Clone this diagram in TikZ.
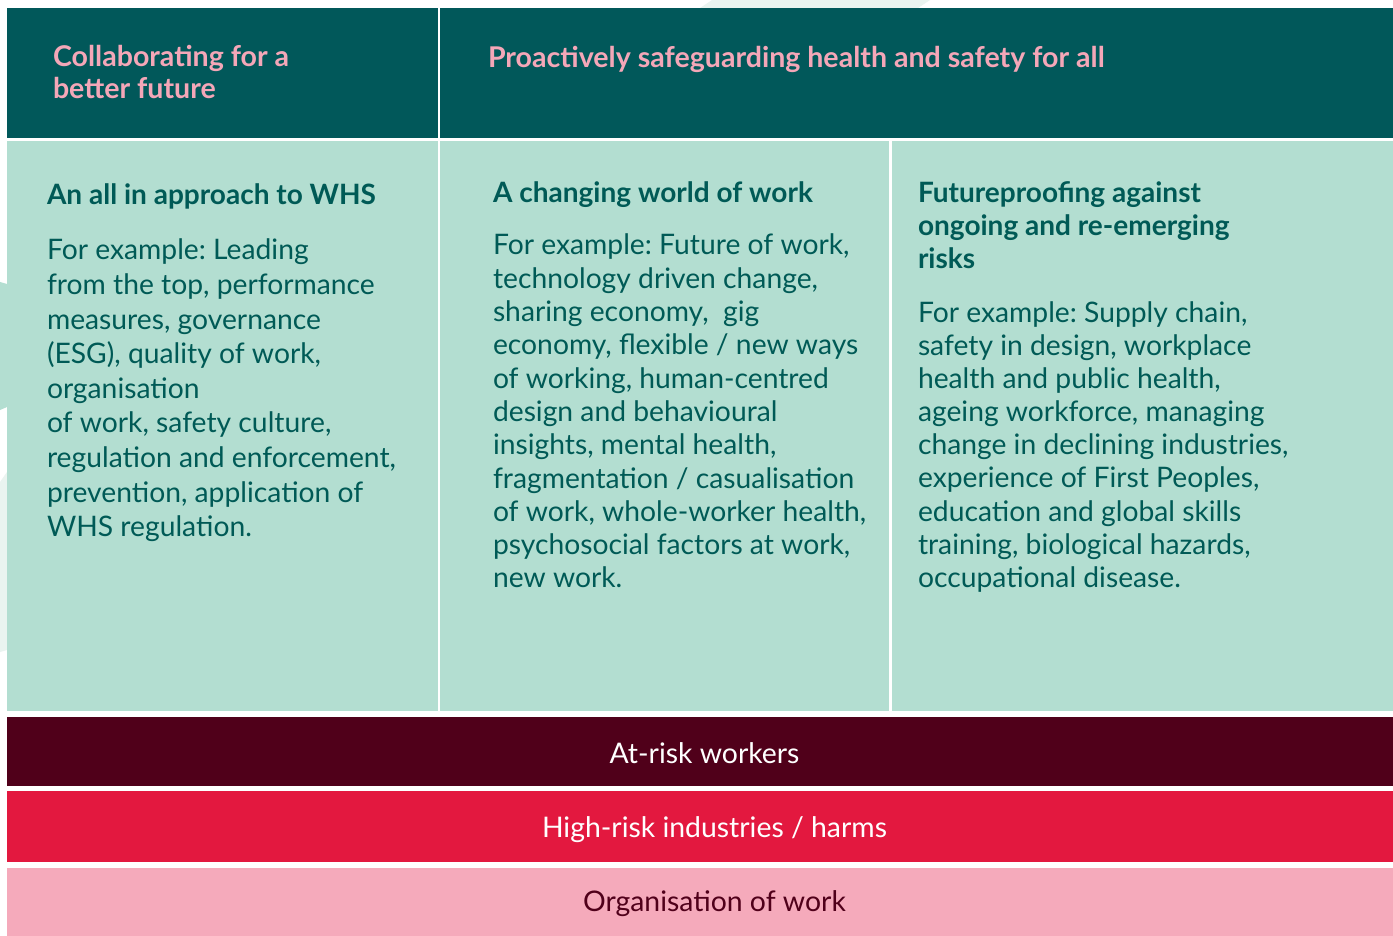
\documentclass[tikz,border=0pt]{standalone}
\usepackage{fontspec}
\setmainfont{Lato}
\definecolor{hdr}{HTML}{01585A}
\definecolor{hdrtxt}{HTML}{F4A7B8}
\definecolor{mint}{HTML}{B3DED1}
\definecolor{ink}{HTML}{005A56}
\definecolor{bandA}{HTML}{50001A}
\definecolor{bandB}{HTML}{E3183F}
\definecolor{bandC}{HTML}{F5AABB}
\definecolor{faint}{HTML}{EAF4F0}
\newbox\fitbox
\makeatletter
\newcommand\fitfont[4]{%
  \setbox\fitbox=\hbox{\normalfont\frenchspacing#2\fontsize{10pt}{12pt}\selectfont #4}%
  \edef\fitw{\strip@pt\wd\fitbox}%
  \pgfmathsetmacro#1{10*#3/\fitw}\global\let#1#1}
\makeatother
\frenchspacing
\begin{document}
\fitfont{\bodysize}{\mdseries}{349}{regulation and enforcement,}%
\fitfont{\headsize}{\bfseries}{329}{An all in approach to WHS}%
\fitfont{\topsize}{\bfseries}{236}{Collaborating for a}%
\fitfont{\bandsize}{\mdseries}{345}{High-risk industries / harms}%
\begin{tikzpicture}[x=1pt,y=-1pt,
  cell/.style={draw=none,inner sep=0pt,outer sep=0pt,anchor=north west},
  txt/.style={inner sep=0pt,outer sep=0pt,anchor=base west,text=ink,
    font=\frenchspacing\fontsize{\bodysize pt}{34pt}\selectfont},
  head/.style={inner sep=0pt,outer sep=0pt,anchor=base west,text=ink,
    font=\bfseries\fontsize{\headsize pt}{33pt}\selectfont},
  top/.style={inner sep=0pt,outer sep=0pt,anchor=base west,text=hdrtxt,
    font=\bfseries\fontsize{\topsize pt}{33pt}\selectfont},
  bandlabel/.style={inner sep=0pt,outer sep=0pt,anchor=base,
    font=\fontsize{\bandsize pt}{30pt}\selectfont}]
\useasboundingbox (0,0) rectangle (1393,936);
\fill[white] (0,0) rectangle (1393,936);
% faint background decorations
\fill[faint] (712,0) -- (930,0) -- (918,8) -- (700,8) -- cycle;
\fill[mint] (0,282) -- (7,284) -- (7,407) -- (0,410) -- cycle;
\fill[faint] (0,482) -- (7,472) -- (7,650) -- (0,652) -- cycle;
% header cells
\node[cell,fill=hdr,minimum width=431,minimum height=130] (h1) at (7,8) {};
\node[cell,fill=hdr,minimum width=953,minimum height=130] (h2) at (440,8) {};
% content cells
\node[cell,fill=mint,minimum width=431,minimum height=570] (c1) at (7,141) {};
\node[cell,fill=mint,minimum width=449,minimum height=570] (c2) at (440,141) {};
\node[cell,fill=mint,minimum width=501,minimum height=570] (c3) at (892,141) {};
% bands
\node[cell,fill=bandA,minimum width=1386,minimum height=69] (b1) at (7,717) {};
\node[cell,fill=bandB,minimum width=1386,minimum height=71] (b2) at (7,791) {};
\node[cell,fill=bandC,minimum width=1386,minimum height=68] (b3) at (7,868) {};
% header texts
\node[top] (t1) at (53,67) {\vtop{\baselineskip=32pt\hbox{Collaborating for a}\hbox{better future}}};
\node[top] (t2) at (488,68) {Proactively safeguarding health and safety for all};
% column 1
\node[head] (k1) at (47,205) {An all in approach to WHS};
\node[txt] (d1) at (47,260) {\vtop{\baselineskip=34.6pt
  \hbox{For example: Leading}
  \hbox{from the top, performance}
  \hbox{measures, governance}
  \hbox{(ESG), quality of work,}
  \hbox{organisation}
  \hbox{of work, safety culture,}
  \hbox{regulation and enforcement,}
  \hbox{prevention, application of}
  \hbox{WHS regulation.}}};
% column 2
\node[head] (k2) at (493,203) {A changing world of work};
\node[txt] (d2) at (493,255) {\vtop{\baselineskip=33.3pt
  \hbox{For example: Future of work,}
  \hbox{technology driven change,}
  \hbox{sharing economy,\ \ gig}
  \hbox{economy, flexible / new ways}
  \hbox{of working, human-centred}
  \hbox{design and behavioural}
  \hbox{insights, mental health,}
  \hbox{fragmentation / casualisation}
  \hbox{of work, whole-worker health,}
  \hbox{psychosocial factors at work,}
  \hbox{new work.}}};
% column 3
\node[head] (k3) at (918,203) {\vtop{\baselineskip=33pt
  \hbox{Futureproofing against}
  \hbox{ongoing and re-emerging}
  \hbox{risks}}};
\node[txt] (d3) at (918,322) {\vtop{\baselineskip=33.2pt
  \hbox{For example: Supply chain,}
  \hbox{safety in design, workplace}
  \hbox{health and public health,}
  \hbox{ageing workforce, managing}
  \hbox{change in declining industries,}
  \hbox{experience of First Peoples,}
  \hbox{education and global skills}
  \hbox{training, biological hazards,}
  \hbox{occupational disease.}}};
% band labels
\node[bandlabel,text=white] (l1) at (704.5,763) {At-risk workers};
\node[bandlabel,text=white] (l2) at (714.5,837) {High-risk industries / harms};
\node[bandlabel,text=bandA] (l3) at (714.5,911) {Organisation of work};
\end{tikzpicture}
\end{document}
